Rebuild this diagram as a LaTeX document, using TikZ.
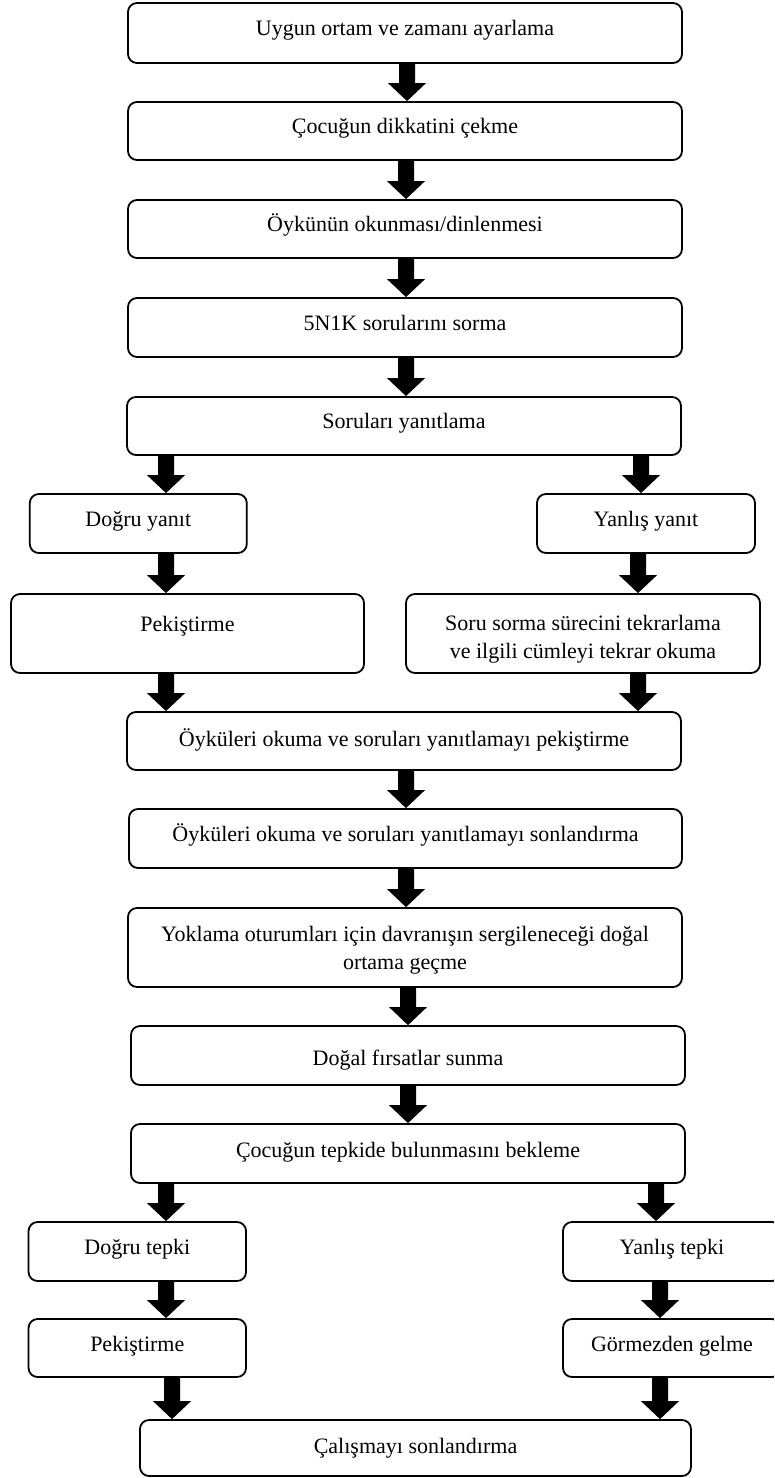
\documentclass[tikz,border=0pt]{standalone}
\usepackage{fontspec}
\setmainfont{Liberation Serif}
\usetikzlibrary{calc}
\tikzset{
  box/.style={draw, line width=1.8pt, rounded corners=9pt, align=center, inner sep=0pt,
    font=\fontsize{22}{28}\selectfont},
  one/.style={text height=15pt, text depth=#1},
  one/.default=5pt,
}
% block arrow: #1 = x coordinate name, #2 = from node, #3 = to node
\newcommand\barrow[3]{%
  \fill let \p1=(#2.south -| #1), \p2=(#3.north -| #1) in
    (\x1-8pt,\y1) -- (\x1+8pt,\y1) -- (\x1+8pt,\y2+18pt) -- (\x1+19pt,\y2+18pt)
    -- (\x1,\y2) -- (\x1-19pt,\y2+18pt) -- (\x1-8pt,\y2+18pt) -- cycle;}
\begin{document}
\begin{tikzpicture}[x=1pt,y=-1pt]
\useasboundingbox (0,0) rectangle (774,1478);
\clip (0,0) rectangle (774,1478);

\node[box, one=11pt, minimum width=554pt, minimum height=60pt] (b1) at (405,33) {Uygun ortam ve zamanı ayarlama};
\node[box, one=10.4pt, minimum width=554pt, minimum height=58pt] (b2) at (405,131) {Çocuğun dikkatini çekme};
\node[box, one=9.6pt, minimum width=554pt, minimum height=58pt] (b3) at (405,229) {Öykünün okunması/dinlenmesi};
\node[box, one=10pt, minimum width=554pt, minimum height=59pt] (b4) at (405,327.5) {5N1K sorularını sorma};
\node[box, one=10.4pt, minimum width=554pt, minimum height=58pt] (b5) at (404,426) {Soruları yanıtlama};
\node[box, one=8.6pt, minimum width=217pt, minimum height=59pt] (dy) at (138.3,523.5) {Doğru yanıt};
\node[box, one=8.6pt, minimum width=218pt, minimum height=59pt] (yy) at (646,523.5) {Yanlış yanıt};
\node[box, one=18.6pt, minimum width=353pt, minimum height=79pt] (pk1) at (187.5,633.5) {Pekiştirme};
\node[box, minimum width=354pt, minimum height=79pt] (ss) at (583,633.5) {\rule{0pt}{27pt}Soru sorma sürecini tekrarlama\\ve ilgili cümleyi tekrar okuma};
\node[box, one, minimum width=554pt, minimum height=58pt] (op) at (404,741) {Öyküleri okuma ve soruları yanıtlamayı pekiştirme};
\node[box, one=8.6pt, minimum width=553pt, minimum height=59pt] (os) at (405.5,838.5) {Öyküleri okuma ve soruları yanıtlamayı sonlandırma};
\node[box, minimum width=554pt, minimum height=79pt] (yk) at (405,947.5) {\rule{0pt}{21.6pt}Yoklama oturumları için davranışın sergileneceği doğal\\ortama geçme};
\node[box, text height=24pt, text depth=5pt, minimum width=554pt, minimum height=59pt] (df) at (408,1055.5) {Doğal fırsatlar sunma};
\node[box, one=8pt, minimum width=554pt, minimum height=59pt] (ct) at (408,1153.5) {Çocuğun tepkide bulunmasını bekleme};
\node[box, one=8.6pt, minimum width=217.5pt, minimum height=59pt] (dt) at (137.3,1251.5) {Doğru tepki};
\node[box, one=8.6pt, minimum width=218pt, minimum height=59pt] (yt) at (672,1251.5) {Yanlış tepki};
\node[box, one=8.4pt, minimum width=217.5pt, minimum height=58pt] (pk2) at (137.3,1348) {Pekiştirme};
\node[box, one=8.4pt, minimum width=218pt, minimum height=58pt] (gg) at (672,1348) {Görmezden gelme};
\node[box, one, minimum width=551pt, minimum height=56pt] (cs) at (415.5,1448) {Çalışmayı sonlandırma};

\coordinate (xa) at (407,0);
\coordinate (xb) at (406,0);
\coordinate (xc) at (408,0);
\coordinate (xl) at (166,0);
\coordinate (xl2) at (172,0);
\coordinate (xr1) at (641,0);
\coordinate (xr2) at (638,0);
\coordinate (xr3) at (656,0);
\coordinate (xr4) at (660,0);

\barrow{xa}{b1}{b2}
\barrow{xb}{b2}{b3}
\barrow{xb}{b3}{b4}
\barrow{xb}{b4}{b5}
\barrow{xl}{b5}{dy}
\barrow{xr1}{b5}{yy}
\barrow{xl}{dy}{pk1}
\barrow{xr2}{yy}{ss}
\barrow{xl}{pk1}{op}
\barrow{xr2}{ss}{op}
\barrow{xb}{op}{os}
\barrow{xb}{os}{yk}
\barrow{xc}{yk}{df}
\barrow{xc}{df}{ct}
\barrow{xl}{ct}{dt}
\barrow{xr3}{ct}{yt}
\barrow{xl}{dt}{pk2}
\barrow{xr4}{yt}{gg}
\barrow{xl2}{pk2}{cs}
\barrow{xr4}{gg}{cs}
\end{tikzpicture}
\end{document}
